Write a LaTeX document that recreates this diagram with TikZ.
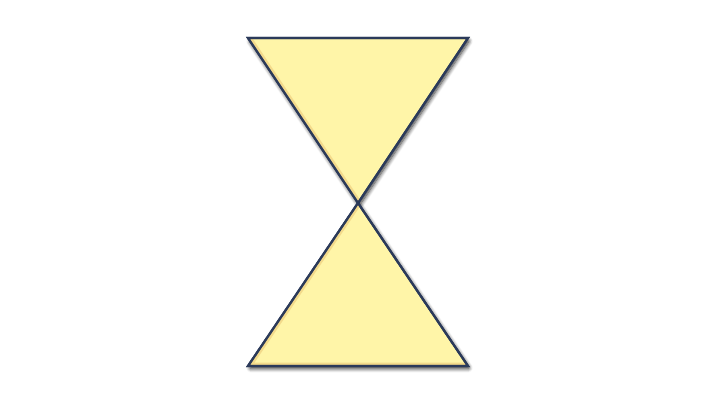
\documentclass[tikz,border=0pt]{standalone}
\usetikzlibrary{shadows.blur}
\definecolor{conefill}{HTML}{FFF5A8}
\definecolor{coneedge}{HTML}{2B3A5A}
\definecolor{conebevel}{HTML}{E8C070}
\tikzset{
  cone/.style={fill=conefill,draw=coneedge,line width=2.2pt,line join=miter,
    blur shadow={shadow xshift=1.5pt,shadow yshift=-2.5pt,shadow blur radius=4pt,
      shadow blur extra rounding=1pt,shadow blur steps=8,shadow opacity=85}},
  bevel/.style={draw=conebevel,line width=7pt,opacity=0.5,line join=miter}
}
\begin{document}
\begin{tikzpicture}[x=1pt,y=-1pt]
  \useasboundingbox (0,0) rectangle (720,405);
  \coordinate (tl) at (248,38);
  \coordinate (tr) at (468,38);
  \coordinate (mid) at (358,203);
  \coordinate (bl) at (248,366);
  \coordinate (br) at (468,366);
  % upper triangle
  \path[cone] (tl) -- (tr) -- (mid) -- cycle;
  \begin{scope}
    \clip (tl) -- (tr) -- (mid) -- cycle;
    \draw[bevel] (tl) -- (mid);
  \end{scope}
  \draw[draw=coneedge,line width=2.2pt,line join=miter] (tl) -- (tr) -- (mid) -- cycle;
  % lower triangle
  \path[cone] (mid) -- (br) -- (bl) -- cycle;
  \begin{scope}
    \clip (mid) -- (br) -- (bl) -- cycle;
    \draw[bevel] (mid) -- (bl) -- (br);
  \end{scope}
  \draw[draw=coneedge,line width=2.2pt,line join=miter] (mid) -- (br) -- (bl) -- cycle;
\end{tikzpicture}
\end{document}
